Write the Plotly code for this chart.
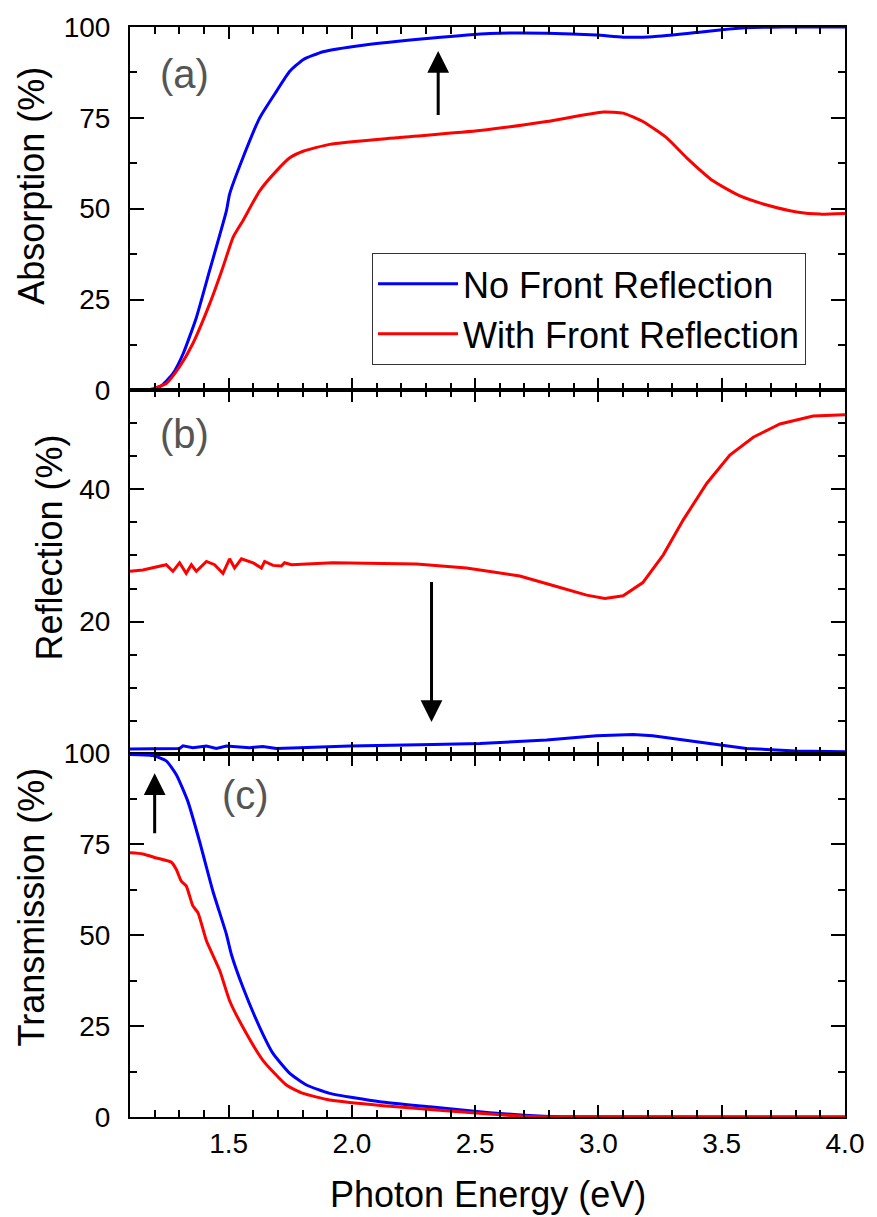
import plotly.graph_objects as go
from plotly.subplots import make_subplots

# ---------------- data ----------------
# (a) Absorption (%)
abs_no_x = [1.10, 1.15, 1.20, 1.232, 1.274, 1.315, 1.369, 1.423, 1.491, 1.504, 1.558, 1.626, 1.694,
            1.748, 1.802, 1.883, 2.045, 2.316, 2.559, 2.79, 2.992, 3.10, 3.22, 3.40, 3.493, 3.60, 3.75, 4.00]
abs_no_y = [0, 0, 0.3, 1.5, 4.6, 10, 20, 33, 49.4, 54, 64, 75, 82.3,
            87.8, 91, 93.2, 95, 96.9, 98.2, 98.3, 97.8, 97.2, 97.3, 98.5, 99.2, 99.8, 100, 100]
abs_fr_x = [1.10, 1.15, 1.18, 1.247, 1.301, 1.355, 1.423, 1.477, 1.518, 1.558, 1.626, 1.694, 1.748,
            1.802, 1.91, 2.18, 2.519, 2.79, 3.019, 3.10, 3.18, 3.277, 3.358, 3.466, 3.574, 3.683,
            3.804, 3.899, 4.00]
abs_fr_y = [0, 0, 0.2, 1.9, 6.5, 12.9, 23.8, 33.9, 42.1, 46.7, 54.9, 60.4, 64,
            65.8, 67.7, 69.5, 71.5, 74, 76.6, 76.3, 74, 69.5, 64, 57.6, 53.5, 51,
            49.1, 48.5, 48.7]

# (b) Reflection (%)
ref_no_x = [1.10, 1.301, 1.315, 1.355, 1.41, 1.45, 1.491, 1.585, 1.639, 1.694, 1.788, 1.991, 2.329,
            2.519, 2.79, 2.992, 3.14, 3.22, 3.398, 3.60, 3.80, 4.00]
ref_no_y = [0.7, 0.8, 1.2, 0.9, 1.16, 0.8, 1.16, 0.9, 1.1, 0.8, 0.9, 1.16, 1.4,
            1.55, 2.06, 2.7, 2.9, 2.7, 1.8, 0.8, 0.4, 0.3]
ref_fr_x = [1.10, 1.152, 1.247, 1.274, 1.301, 1.328, 1.349, 1.369, 1.41, 1.443, 1.477, 1.504, 1.524,
            1.552, 1.599, 1.633, 1.646, 1.68, 1.714, 1.727, 1.755, 1.923, 2.262, 2.465,
            2.519, 2.681, 2.83, 2.952, 3.026, 3.10, 3.18, 3.263, 3.344, 3.439, 3.533, 3.628,
            3.736, 3.871, 4.00]
ref_fr_y = [27.6, 27.8, 28.6, 27.6, 28.9, 27.3, 28.6, 27.6, 29.1, 28.6, 27.3, 29.5, 28.1,
            29.5, 28.9, 28.1, 29.1, 28.5, 28.4, 28.9, 28.6, 28.9, 28.7, 28.1,
            27.8, 26.9, 25.3, 24, 23.5, 23.9, 25.9, 30.1, 35.4, 40.9, 45.2, 47.9,
            49.9, 51.1, 51.3]

# (c) Transmission (%)
tra_no_x = [1.10, 1.193, 1.247, 1.288, 1.335, 1.382, 1.436, 1.491, 1.511, 1.558, 1.626, 1.68, 1.748,
            1.816, 1.91, 2.113, 2.316, 2.559, 2.70, 2.85, 4.00]
tra_no_y = [99.8, 99.5, 98, 94.2, 86.8, 75.9, 62.2, 50.3, 44.8, 35.7, 24.7, 17.5, 12,
            8.8, 6.5, 4.2, 2.8, 1.2, 0.5, 0.1, 0]
tra_fr_x = [1.10, 1.152, 1.207, 1.268, 1.288, 1.308, 1.328, 1.355, 1.376, 1.41, 1.464, 1.504, 1.558,
            1.639, 1.734, 1.802, 1.91, 2.18, 2.559, 2.70, 2.85, 4.00]
tra_fr_y = [72.7, 72.4, 71.3, 70.1, 68.1, 64.9, 63.6, 58.1, 56.2, 48.5, 40.3, 32, 24.7,
            15.6, 8.8, 6.5, 4.7, 2.8, 0.8, 0.2, 0, 0]

series_names = ["No Front Reflection", "With Front Reflection"]
panel_labels = ["(a)", "(b)", "(c)"]
y_titles = ["Absorption (%)", "Reflection (%)", "Transmission (%)"]
x_title = "Photon Energy (eV)"

BLUE = "#0000FF"
RED = "#FF0000"
FONT = "Liberation Sans, Arial, sans-serif"

fig = make_subplots(rows=3, cols=1, shared_xaxes=True, vertical_spacing=0)

panels = [
    (abs_no_x, abs_no_y, abs_fr_x, abs_fr_y, "spline"),
    (ref_no_x, ref_no_y, ref_fr_x, ref_fr_y, "linear"),
    (tra_no_x, tra_no_y, tra_fr_x, tra_fr_y, "spline"),
]
for i, (bx, by, rx, ry, shp) in enumerate(panels):
    fig.add_trace(go.Scatter(x=bx, y=by, mode="lines", name=series_names[0],
                             line=dict(color=BLUE, width=3, shape=shp, smoothing=0.5),
                             showlegend=(i == 0)),
                  row=i + 1, col=1)
    fig.add_trace(go.Scatter(x=rx, y=ry, mode="lines", name=series_names[1],
                             line=dict(color=RED, width=3, shape=shp, smoothing=0.5),
                             showlegend=(i == 0)),
                  row=i + 1, col=1)

xcommon = dict(range=[1.1, 4.0], showline=True, linecolor="black", linewidth=2,
               mirror="allticks", ticks="inside", ticklen=12, tickwidth=2, tickcolor="black",
               tick0=0, dtick=0.5, tickformat=".1f",
               minor=dict(dtick=0.1, ticklen=7, tickwidth=2, ticks="inside", tickcolor="black"),
               showgrid=False, zeroline=False,
               tickfont=dict(family=FONT, size=28, color="black"))
for r in (1, 2, 3):
    fig.update_xaxes(**xcommon, showticklabels=(r == 3), ticklabelstandoff=0, row=r, col=1)

ycommon = dict(showline=True, linecolor="black", linewidth=2, mirror="allticks",
               ticks="inside", ticklen=14, tickwidth=2, tickcolor="black",
               showgrid=False, zeroline=False, ticklabelstandoff=12,
               tickfont=dict(family=FONT, size=28, color="black"))
fig.update_yaxes(**ycommon, range=[0, 100], tickvals=[0, 25, 50, 75, 100],
                 minor=dict(dtick=12.5, ticklen=7, tickwidth=2, ticks="inside", tickcolor="black"),
                 row=1, col=1)
fig.update_yaxes(**ycommon, range=[0, 55], tickvals=[0, 20, 40], ticktext=["", "20", "40"],
                 minor=dict(dtick=5, ticklen=7, tickwidth=2, ticks="inside", tickcolor="black"),
                 row=2, col=1)
fig.update_yaxes(**ycommon, range=[0, 100], tickvals=[0, 25, 50, 75, 100],
                 minor=dict(dtick=12.5, ticklen=7, tickwidth=2, ticks="inside", tickcolor="black"),
                 row=3, col=1)

ann = []
# panel labels
for (lab, xr, yr, xv, yv) in [(panel_labels[0], "x", "y", 1.322, 87),
                               (panel_labels[1], "x2", "y2", 1.322, 48.4),
                               (panel_labels[2], "x3", "y3", 1.569, 88.7)]:
    ann.append(dict(text=lab, x=xv, y=yv, xref=xr, yref=yr, showarrow=False,
                    xanchor="center", yanchor="middle",
                    font=dict(family=FONT, size=40, color="#555555")))
# arrows
for (xr, yr, xv, yv, ayv) in [("x", "y", 2.35, 93.4, 75.4),
                               ("x2", "y2", 2.323, 4.8, 26.2),
                               ("x3", "y3", 1.20, 94.6, 77.7)]:
    ann.append(dict(text="", x=xv, y=yv, xref=xr, yref=yr, ax=xv, ay=ayv, axref=xr, ayref=yr,
                    showarrow=True, arrowhead=2, arrowsize=1.45, arrowwidth=3, arrowcolor="black"))
# axis titles
for (t, xp, yp) in [(y_titles[0], -0.1378, 0.8548), (y_titles[1], -0.1119, 0.5224),
                    (y_titles[2], -0.1378, 0.1927)]:
    ann.append(dict(text=t, x=xp, y=yp, xref="paper", yref="paper", showarrow=False,
                    textangle=-90, xanchor="center", yanchor="middle",
                    font=dict(family=FONT, size=36, color="black")))
ann.append(dict(text=x_title, x=0.5, y=-0.0712, xref="paper", yref="paper", showarrow=False,
                xanchor="center", yanchor="middle", font=dict(family=FONT, size=36, color="black")))

fig.update_layout(
    width=877, height=1217,
    margin=dict(l=130, r=32, t=22, b=100),
    plot_bgcolor="white", paper_bgcolor="white",
    annotations=ann,
    legend=dict(x=0.3385, y=0.7927, xanchor="left", yanchor="top",
                bordercolor="#333333", borderwidth=1, bgcolor="white",
                font=dict(family=FONT, size=36, color="black"),
                itemwidth=80, tracegroupgap=0),
    font=dict(family=FONT),
)

fig.write_html("out.html", config={"displayModeBar": False},
               post_script="document.body.style.margin='0';document.body.style.padding='0';")
